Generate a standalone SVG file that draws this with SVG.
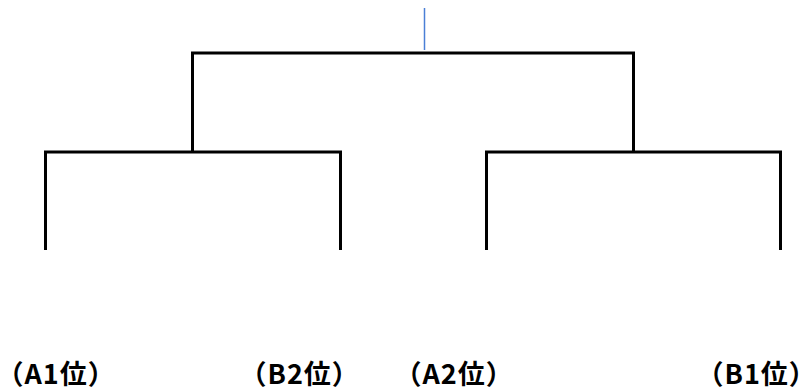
<svg xmlns="http://www.w3.org/2000/svg" width="804" height="392" viewBox="0 0 804 392">
<style>
.ln{stroke:#000;stroke-width:3;fill:none;stroke-linecap:butt}
.lbl{font-family:"Noto Sans CJK JP","Noto Sans",sans-serif;font-weight:bold;font-size:27px;fill:#000;font-feature-settings:"halt";letter-spacing:1px}
</style>
<rect width="804" height="392" fill="#fff"/>
<g id="connectors">
<line x1="424.5" y1="8" x2="424.5" y2="50" stroke="#4a7fd6" stroke-width="1.5"/>
<path class="ln" d="M192.5,152 V53 H633.5 V152"/>
<path class="ln" d="M45.5,250 V152 H340.5 V250"/>
<path class="ln" d="M486.5,250 V152 H780.5 V250"/>
</g>
<g id="n1"><text class="lbl" x="10" y="384">（A1位）</text></g>
<g id="n2"><text class="lbl" x="253" y="384">（B2位）</text></g>
<g id="n3"><text class="lbl" x="408" y="384">（A2位）</text></g>
<g id="n4"><text class="lbl" x="710" y="384">（B1位）</text></g>
</svg>
